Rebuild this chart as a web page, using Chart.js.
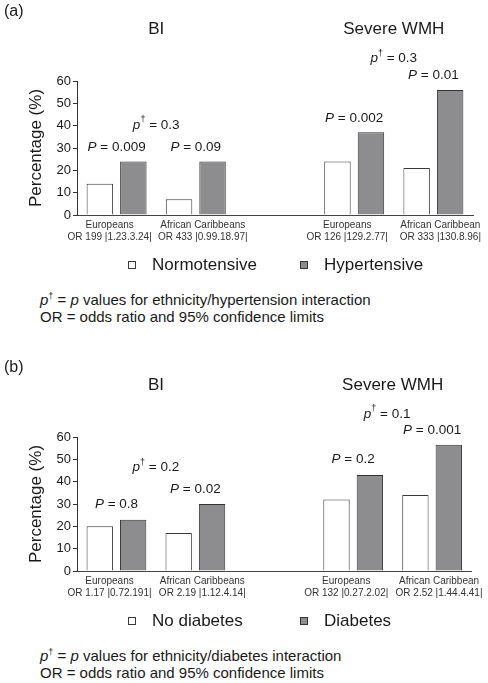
<!DOCTYPE html>
<html>
<head>
<meta charset="utf-8">
<script src="https://cdn.jsdelivr.net/npm/chart.js@4.4.1/dist/chart.umd.min.js"></script>
<style>
  body { margin: 0; background: #fff; }
  #page { position: relative; width: 488px; height: 683px; font-family: 'Liberation Sans', Arial, sans-serif; color: #1a1a1a; }
  .panel { position: absolute; left: 0; width: 488px; height: 327px; }
  .box { position: relative; width: 488px; height: 283px; }
  .note { position: absolute; left: 40px; top: 291px; font-size: 15px; line-height: 17px; white-space: nowrap; }
  .note sup { font-size: 9px; vertical-align: 6px; line-height: 0; }
</style>
</head>
<body>
<div id="page">
  <div class="panel" style="top:0">
    <div class="box"><canvas id="chartA"></canvas></div>
    <div class="note"><i>p</i><sup>†</sup> = <i>p</i> values for ethnicity/hypertension interaction<br>OR = odds ratio and 95% confidence limits</div>
  </div>
  <div class="panel" style="top:356px">
    <div class="box"><canvas id="chartB"></canvas></div>
    <div class="note"><i>p</i><sup>†</sup> = <i>p</i> values for ethnicity/diabetes interaction<br>OR = odds ratio and 95% confidence limits</div>
  </div>
</div>
<script>
// data
const groups = ['Europeans', 'African Caribbeans', '', 'Europeans', 'African Caribbean'];
const oddsA = ['OR 199 |1.23.3.24|', 'OR 433 |0.99.18.97|', '', 'OR 126 |129.2.77|', 'OR 333 |130.8.96|'];
const oddsB = ['OR 1.17 |0.72.191|', 'OR 2.19 |1.12.4.14|', '', 'OR 132 |0.27.2.02|', 'OR 2.52 |1.44.4.41|'];
const panelTitles = ['BI', 'Severe WMH'];
const yTicks = [0, 10, 20, 30, 40, 50, 60];

const normotensive = [14, 7, null, 24, 21];
const hypertensive = [24, 24, null, 37, 56];
const noDiabetes = [20, 17, null, 32, 34];
const diabetes = [23, 30, null, 43, 56.5];

const pValuesA = ['0.009', '0.09', null, '0.002', '0.01'];
const pValuesB = ['0.8', '0.02', null, '0.2', '0.001'];
const interactionA = ['0.3', '0.3'];
const interactionB = ['0.2', '0.1'];

const FONT = "'Liberation Sans', Arial, sans-serif";
const INK = '#1a1a1a';

Chart.defaults.font.family = FONT;
Chart.defaults.color = INK;

// draws a run of text pieces (italic / superscript) centred on cx
function drawRich(ctx, parts, cx, cy) {
  const fontOf = p => (p.it ? 'italic ' : '') + (p.sup ? '9px ' : '13.5px ') + FONT;
  let total = 0;
  parts.forEach(p => { ctx.font = fontOf(p); p.w = ctx.measureText(p.t).width; total += p.w; });
  let x = cx - total / 2;
  ctx.textAlign = 'left';
  parts.forEach(p => {
    ctx.font = fontOf(p);
    ctx.fillText(p.t, x, p.sup ? cy - 5 : cy);
    x += p.w;
  });
}

const figureText = {
  id: 'figureText',
  afterDraw(chart, args, opts) {
    const { ctx, chartArea } = chart;
    const xs = chart.scales.x, ys = chart.scales.y;
    ctx.save();
    ctx.fillStyle = INK;
    ctx.textBaseline = 'middle';

    ctx.font = '16px ' + FONT;
    ctx.textAlign = 'left';
    ctx.fillText(opts.tag, 4, 12);

    ctx.font = '17px ' + FONT;
    ctx.textAlign = 'center';
    panelTitles.forEach((t, i) => ctx.fillText(t, xs.getPixelForValue(opts.titleX[i]), chartArea.top - 52));

    opts.pValues.forEach((v, i) => {
      if (v === null) return;
      drawRich(ctx, [{ t: 'P', it: true }, { t: ' = ' + v }], xs.getPixelForValue(i), ys.getPixelForValue(opts.pY[i]));
    });
    opts.interaction.forEach((v, i) => {
      drawRich(ctx, [{ t: 'p', it: true }, { t: '†', sup: true }, { t: ' = ' + v }],
        xs.getPixelForValue(opts.interX[i]), ys.getPixelForValue(opts.interY[i]));
    });

    // legend
    const ly = chartArea.bottom + 50;
    ctx.font = '17px ' + FONT;
    ctx.textAlign = 'left';
    chart.data.datasets.forEach((ds, i) => {
      const bx = opts.legendX[i];
      ctx.fillStyle = ds.backgroundColor;
      ctx.fillRect(bx, ly - 4, 8, 8);
      ctx.strokeStyle = ds.borderColor;
      ctx.lineWidth = 1;
      ctx.strokeRect(bx + 0.5, ly - 3.5, 7, 7);
      ctx.fillStyle = INK;
      ctx.fillText(ds.label, bx + 24, ly);
    });
    ctx.restore();
  }
};

const labelShift = [-1, 1, 0, -1, 1];

function buildPanel(id, odds, names, seriesA, seriesB, text) {
  return new Chart(document.getElementById(id), {
    type: 'bar',
    data: {
      labels: groups,
      datasets: [
        { label: names[0], data: seriesA, backgroundColor: '#ffffff', borderColor: '#3a3a3a', borderWidth: 1 },
        { label: names[1], data: seriesB, backgroundColor: '#8d8d8f', borderColor: '#333333', borderWidth: 1 }
      ]
    },
    options: {
      responsive: true,
      maintainAspectRatio: false,
      animation: false,
      categoryPercentage: 0.846,
      barPercentage: 0.79,
      layout: { padding: { top: 81, right: 15, bottom: 36, left: 0 } },
      plugins: {
        legend: { display: false },
        tooltip: { enabled: false },
        figureText: text
      },
      scales: {
        x: {
          grid: { display: false, drawTicks: false },
          border: { color: '#444', width: 1 },
          afterFit: s => { s.height = 32; },
          ticks: {
            autoSkip: false,
            maxRotation: 0,
            minRotation: 0,
            padding: 4,
            color: '#333',
            font: { size: 10 },
            callback: (v, i) => {
              if (!groups[i]) return '';
              const pad = '     ';
              return [groups[i], odds[i]].map(l => labelShift[i] < 0 ? l + pad : pad + l);
            }
          }
        },
        y: {
          min: 0,
          max: 60,
          afterFit: s => { s.width = 77; },
          afterBuildTicks: s => { s.ticks = yTicks.map(v => ({ value: v })); },
          grid: { drawOnChartArea: false, tickLength: 4, color: '#333' },
          border: { color: '#333', width: 1 },
          ticks: { padding: 2, color: INK, font: { size: 13 } },
          title: {
            display: true,
            text: 'Percentage (%)',
            color: INK,
            font: { size: 17 },
            padding: { top: 26, bottom: 0 }
          }
        }
      }
    },
    plugins: [figureText]
  });
}

buildPanel('chartA', oddsA, ['Normotensive', 'Hypertensive'], normotensive, hypertensive, {
  tag: '(a)',
  titleX: [0.5, 3.5],
  pValues: pValuesA,
  pY: [30.4, 30.4, null, 43.4, 62.7],
  interaction: interactionA,
  interX: [0.5, 3.5],
  interY: [40.3, 70],
  legendX: [128, 300]
});

buildPanel('chartB', oddsB, ['No diabetes', 'Diabetes'], noDiabetes, diabetes, {
  tag: '(b)',
  titleX: [0.5, 3.5],
  pValues: pValuesB,
  pY: [30, 36.6, null, 50, 63],
  interaction: interactionB,
  interX: [0.5, 3.43],
  interY: [46.4, 70.3],
  legendX: [128, 300]
});
</script>
</body>
</html>
